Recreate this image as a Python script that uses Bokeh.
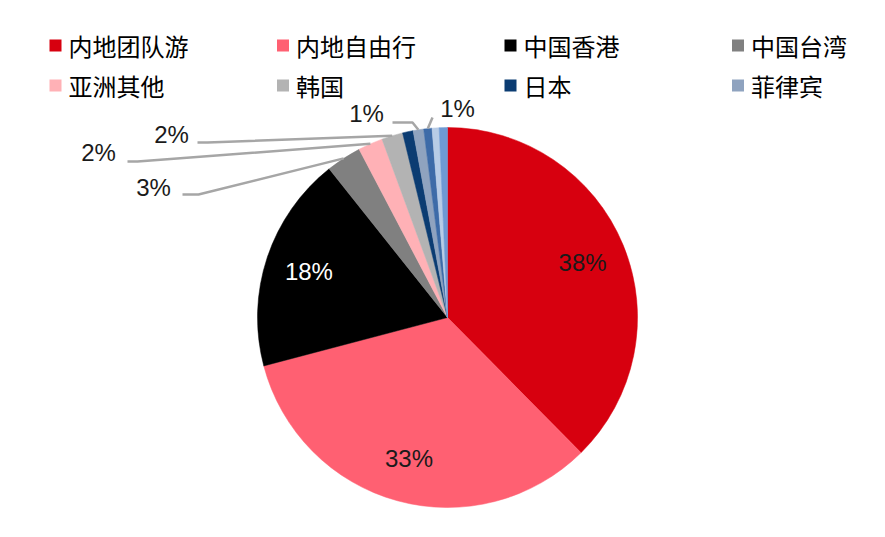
import math
from bokeh.plotting import figure
from bokeh.models import Range1d, ColumnDataSource
from bokeh.core.properties import value
from bokeh.embed import file_html
from bokeh.resources import INLINE

# ---- data ----
categories = ["内地团队游", "内地自由行", "中国香港", "中国台湾", "亚洲其他", "韩国", "日本", "菲律宾",
              "其他1", "其他2", "其他3"]
shares = [37.6, 33.3, 18.4, 3.0, 2.1, 1.8, 0.9, 0.9, 0.7, 0.6, 0.7]
colors = ["#D7000F", "#FF6072", "#000000", "#808080", "#FFB1B6", "#B3B3B3", "#0B3C72", "#8FA3BF",
          "#3D6BA8", "#B8CCE6", "#6E9AD4"]
legend_count = 8
inside_labels = [0, 1, 2]
inside_label_colors = ["#1a1a1a", "#1a1a1a", "#ffffff"]
outside_labels = [3, 4, 5, 7, 8]

# ---- layout (page pixel coords; data y = -page y) ----
W, H = 869, 521
CX, CY, R = 447, 317, 190
INNER_R = 146
# label centre, leader start, leader elbow
outside_layout = {
    3: ((153, 187), (182, 194), (198, 194)),
    4: ((98, 152), (127, 161), (137, 161)),
    5: ((171, 134), (197, 142), (207, 142)),
    7: ((366, 113), (392, 122), (412, 122)),
    8: ((457, 108), (432, 117), (432, 117)),
}
LEG_X0, LEG_DX = 49, 227.5
LEG_Y0, LEG_DY = 45, 40
LEG_SQ = 12
FONT_NUM = value("Liberation Sans")
FONT_CJK = value("Noto Sans CJK SC")

p = figure(width=W, height=H, output_backend="svg", toolbar_location=None,
           x_range=Range1d(0, W), y_range=Range1d(-H, 0),
           min_border=0, outline_line_color=None, background_fill_color="white",
           border_fill_color="white")
p.axis.visible = False
p.grid.visible = False

total = sum(shares)
starts, ends, mids = [], [], []
cum = 0.0
for s in shares:
    a0 = cum / total
    cum += s
    a1 = cum / total
    starts.append(math.pi / 2 - a0 * 2 * math.pi)
    ends.append(math.pi / 2 - a1 * 2 * math.pi)
    mids.append(math.pi / 2 - (a0 + a1) / 2 * 2 * math.pi)

src = ColumnDataSource(dict(start=starts, end=ends, color=colors))
p.wedge(x=CX, y=-CY, radius=R, radius_units="screen", start_angle="start", end_angle="end",
        direction="clock", fill_color="color", line_color="color", line_width=0.5, source=src)

# inside labels
for idx, col in zip(inside_labels, inside_label_colors):
    x = CX + INNER_R * math.cos(mids[idx])
    y = -CY + INNER_R * math.sin(mids[idx])
    p.text(x=[x], y=[y], text=[f"{round(shares[idx])}%"], text_align="center",
           text_baseline="middle", text_font=FONT_NUM, text_font_size="24px", text_color=col)

# outside labels + leader lines
for idx in outside_labels:
    (lx, ly), (sx, sy), (ex, ey) = outside_layout[idx]
    px_ = CX + R * math.cos(mids[idx])
    py_ = -CY + R * math.sin(mids[idx])
    p.line(x=[sx, ex, px_], y=[-sy, -ey, py_], line_color="#A6A6A6", line_width=2.5)
    p.text(x=[lx], y=[-ly], text=[f"{round(shares[idx])}%"], text_align="center",
           text_baseline="middle", text_font=FONT_NUM, text_font_size="24px", text_color="#1a1a1a")

# legend (first 8 categories, 4 columns x 2 rows)
lx_sq, ly_sq, lx_t, ly_t, ltxt, lcol = [], [], [], [], [], []
for i in range(legend_count):
    r, c = divmod(i, 4)
    x0 = LEG_X0 + c * LEG_DX
    y0 = LEG_Y0 + r * LEG_DY
    lx_sq.append(x0 + LEG_SQ / 2)
    ly_sq.append(-y0)
    lx_t.append(x0 + LEG_SQ + 7)
    ly_t.append(-y0)
    ltxt.append(categories[i])
    lcol.append(colors[i])
p.scatter(x=lx_sq, y=ly_sq, marker="square", size=LEG_SQ, fill_color=lcol, line_color=None)
p.text(x=lx_t, y=ly_t, text=ltxt, text_align="left", text_baseline="middle",
       text_font=FONT_CJK, text_font_size="24px", text_color="#000000")

open("out.html", "w").write(file_html(p, INLINE))
